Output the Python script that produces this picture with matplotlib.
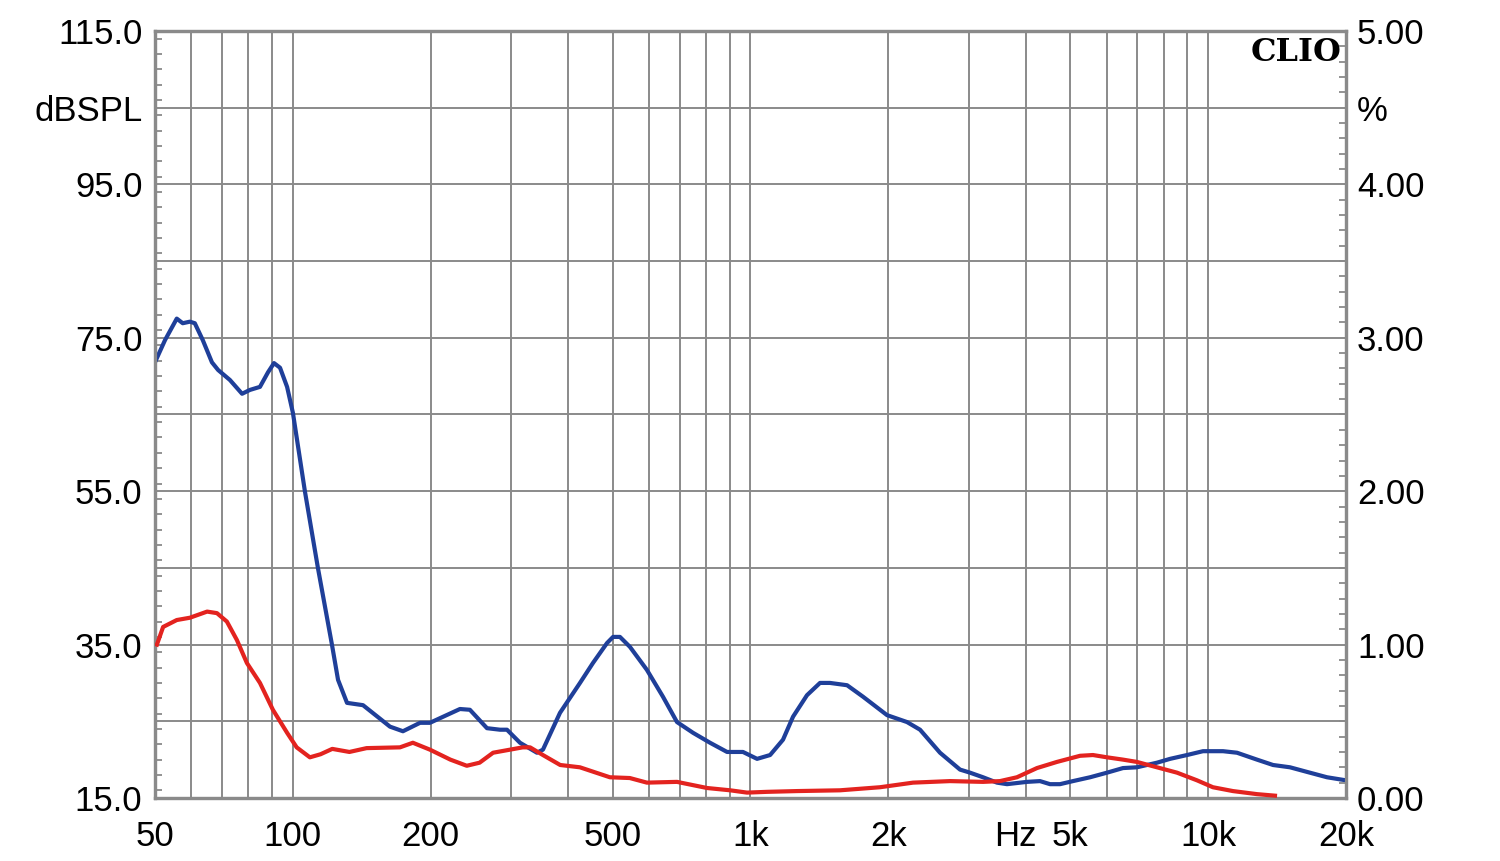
import matplotlib
matplotlib.use("Agg")
import matplotlib.pyplot as plt
from matplotlib.ticker import FixedLocator, NullFormatter, MultipleLocator
import matplotlib.transforms as mtransforms

plt.rcParams["font.family"] = ["Liberation Sans", "DejaVu Sans"]

# frequency response (dB SPL, left axis)
spl_freq = [50, 52.6, 55.8, 57.5, 59.6, 61.1, 63.6, 66.6, 68.7, 72.9, 77.5, 80.6,
            84.8, 88.3, 91.0, 93.8, 97.2, 100.1, 106.3, 113.5, 121.8, 125.6, 131.4,
            142.4, 163.1, 174.1, 189.7, 199.4, 231.9, 243.8, 265.7, 283.7, 293.8,
            313.7, 341.6, 352.1, 383.6, 424.2, 452.8, 486, 501, 518.6, 545.4, 594,
            644, 691, 749, 816, 889, 963, 1034, 1104, 1178, 1239, 1329, 1419, 1492,
            1626, 1762, 1988, 2198, 2347, 2595, 2870, 3018, 3222, 3456, 3635, 4020,
            4291, 4513, 4745, 5066, 5521, 6012, 6515, 6988, 7729, 8256, 8991, 9744,
            10776, 11560, 12784, 13859, 15093, 16440, 18182, 20000]
spl_db = [71.8, 74.7, 77.5, 76.9, 77.1, 76.9, 74.7, 71.8, 70.8, 69.5, 67.7, 68.2,
          68.6, 70.5, 71.7, 71.1, 68.6, 65.2, 55.0, 45.0, 35.0, 30.4, 27.4,
          27.1, 24.3, 23.7, 24.8, 24.8, 26.6, 26.5, 24.1, 23.9, 23.9,
          22.2, 20.9, 21.3, 26.1, 30.0, 32.6, 35.2, 36.0, 36.0, 34.7, 31.7,
          28.2, 24.9, 23.5, 22.2, 21.0, 21.0, 20.1, 20.6, 22.6, 25.6, 28.4, 30.0, 30.0,
          29.7, 28.2, 25.8, 24.9, 23.9, 20.9, 18.7, 18.3, 17.7, 17.0, 16.8, 17.1,
          17.2, 16.8, 16.8, 17.2, 17.7, 18.3, 18.9, 19.0, 19.6, 20.1, 20.6, 21.1,
          21.1, 20.9, 20.0, 19.3, 19.0, 18.4, 17.7, 17.3]

# distortion (%, right axis)
thd_freq = [50.5, 52.1, 55.8, 59.6, 65.0, 68.3, 71.8, 75.5, 79.4, 84.8, 90.5, 97.2,
            102, 109, 115, 122, 133, 145, 171.5, 183, 199.4, 221, 240, 256, 274,
            318, 330, 352, 384, 424, 493, 545, 594, 691, 804, 903, 983, 1087, 1264,
            1569, 1919, 2266, 2729, 3222, 3509, 3821, 4226, 4673, 5249, 5601, 6012,
            6515, 6988, 7729, 8550, 9455, 10242, 11327, 12784, 13995]
thd_pct = [1.00, 1.115, 1.16, 1.175, 1.215, 1.205, 1.15, 1.03, 0.88, 0.75, 0.575, 0.425,
           0.33, 0.265, 0.285, 0.32, 0.30, 0.325, 0.33, 0.36, 0.315, 0.25, 0.21, 0.23, 0.295,
           0.33, 0.33, 0.28, 0.215, 0.20, 0.135, 0.13, 0.10, 0.105, 0.065, 0.05, 0.035, 0.04, 0.045,
           0.05, 0.07, 0.10, 0.11, 0.105, 0.11, 0.135, 0.195, 0.235, 0.275, 0.28, 0.265,
           0.25, 0.235, 0.20, 0.165, 0.115, 0.07, 0.045, 0.025, 0.015]

x_ticks = [50, 100, 200, 500, 1000, 2000, 5000, 10000, 20000]
x_labels = ["50", "100", "200", "500", "1k", "2k", "5k", "10k", "20k"]
x_grid = [60, 70, 80, 90, 100, 200, 300, 400, 500, 600, 700, 800, 900,
          1000, 2000, 3000, 4000, 5000, 6000, 7000, 8000, 9000, 10000]
left_ticks = [15, 35, 55, 75, 95, 105, 115]
left_labels = ["15.0", "35.0", "55.0", "75.0", "95.0", "dBSPL", "115.0"]
right_ticks = [0, 1, 2, 3, 4, 4.5, 5]
right_labels = ["0.00", "1.00", "2.00", "3.00", "4.00", "%", "5.00"]

GRID = "#8a8a8a"
SPINE = "#8a8a8a"
BLUE = "#1f3f99"
RED = "#e3231f"
FS = 25
XPAD = 16

fig = plt.figure(figsize=(15, 8.61), dpi=100)
ax = fig.add_axes([0.1033, 0.0732, 0.7940, 0.8908])
ax.set_xscale("log")
ax.set_xlim(50, 20000)
ax.set_ylim(15, 115)

# grid
for f in x_grid:
    ax.axvline(f, color=GRID, lw=1.4, zorder=1)
for y in range(25, 115, 10):
    ax.axhline(y, color=GRID, lw=1.4, zorder=1)

ax.plot(spl_freq, spl_db, color=BLUE, lw=3.0, zorder=3)

ax.xaxis.set_major_locator(FixedLocator(x_ticks))
ax.set_xticklabels(x_labels)
ax.xaxis.set_minor_formatter(NullFormatter())
ax.xaxis.set_minor_locator(FixedLocator([]))
ax.tick_params(axis="x", which="major", length=0, pad=XPAD, labelsize=FS)

ax.set_yticks(left_ticks)
ax.set_yticklabels(left_labels)
ax.yaxis.set_minor_locator(MultipleLocator(2))
ax.tick_params(axis="y", which="major", length=0, pad=9, labelsize=FS)
ax.tick_params(axis="y", which="minor", direction="in", length=5, width=1.3, color=SPINE)

for s in ax.spines.values():
    s.set_color(SPINE)
    s.set_linewidth(2.3)

ax2 = ax.twinx()
ax2.set_ylim(0, 5)
ax2.plot(thd_freq, thd_pct, color=RED, lw=3.0, zorder=3)
ax2.set_yticks(right_ticks)
ax2.set_yticklabels(right_labels)
ax2.yaxis.set_minor_locator(MultipleLocator(0.1))
ax2.tick_params(axis="y", which="major", length=0, pad=8, labelsize=FS)
ax2.tick_params(axis="y", which="minor", direction="in", length=5, width=1.3, color=SPINE)
for s in ax2.spines.values():
    s.set_color(SPINE)
    s.set_linewidth(2.3)

# "Hz" sits in the tick label row
trans = mtransforms.blended_transform_factory(ax.transData, ax.transAxes)
trans = trans + mtransforms.ScaledTranslation(0, -XPAD / 72, fig.dpi_scale_trans)
ax.text(3800, 0, "Hz", transform=trans, ha="center", va="top", fontsize=FS)

ax.text(0.996, 0.992, "CLIO", transform=ax.transAxes, ha="right", va="top",
        fontsize=23, fontweight="bold", family=["DejaVu Serif"])

fig.savefig("out.png", dpi=100)
